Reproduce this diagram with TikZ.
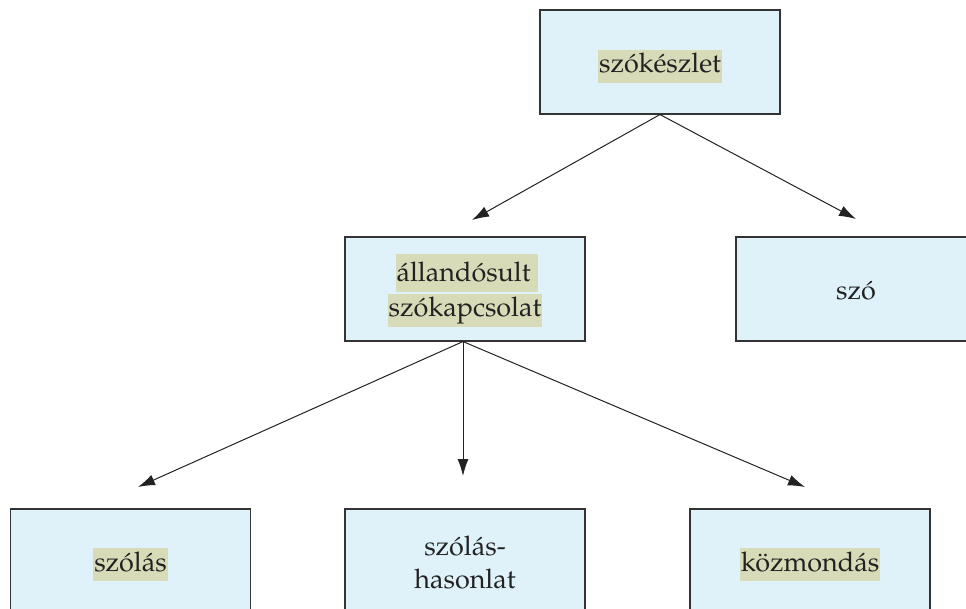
\documentclass[tikz,border=0pt]{standalone}
\usepackage{fontspec}
\setmainfont{texgyrepagella-regular.otf}
\usetikzlibrary{arrows.meta}
\definecolor{boxfill}{HTML}{DFF2FA}
\definecolor{boxline}{HTML}{333333}
\definecolor{hlfill}{HTML}{D8DBB8}
\definecolor{inkcol}{HTML}{222222}
% highlighted word: the struts set the height of the shaded band
\newcommand{\hlword}[1]{{\setlength{\fboxsep}{1pt}\colorbox{hlfill}{\rule[-9pt]{0pt}{31pt}#1}}}
\newcommand{\hlwordtall}[1]{{\setlength{\fboxsep}{1pt}\colorbox{hlfill}{\rule[-9pt]{0pt}{36pt}#1}}}
\tikzset{
  termbox/.style={draw=boxline, line width=1.1pt, fill=boxfill,
    minimum width=240pt, minimum height=104pt, inner sep=0pt},
  termtext/.style={text=inkcol, font=\fontsize{27}{33}\selectfont, align=center,
    inner sep=0pt, anchor=base},
  link/.style={draw=inkcol, line width=1pt, -{Latex[length=17pt,width=11pt]}}
}
\begin{document}
\begin{tikzpicture}[x=1pt,y=-1pt]
  \useasboundingbox (0,0) rectangle (966,609);
  \clip (0,0) rectangle (966,609);
  % boxes
  \node[termbox] (root) at (660,62) {};
  \node[termbox] (fixed) at (465,289) {};
  \node[termbox] (word) at (856,289) {};
  \node[termbox] (saying) at (130.5,561) {};
  \node[termbox] (simile) at (465,561) {};
  \node[termbox] (proverb) at (810,561) {};
  % labels, placed by their baselines
  \node[termtext] (rootlbl) at (660,73) {\hlword{szókészlet}};
  \node[termtext] (fixedlblA) at (467,282) {\hlwordtall{állandósult }};
  \node[termtext] (fixedlblB) at (465,317) {\hlword{szókapcsolat}};
  \node[termtext] (wordlbl) at (856,300) {szó};
  \node[termtext] (sayinglbl) at (130.5,571) {\hlword{szólás}};
  \node[termtext] (similelblA) at (465,555) {szólás-};
  \node[termtext] (similelblB) at (465,588) {hasonlat};
  \node[termtext] (proverblbl) at (810,571) {\hlword{közmondás}};
  % arrow ends above the child boxes
  \coordinate (toFixed) at (472,220);
  \coordinate (toWord) at (856,219);
  \coordinate (toSaying) at (138,487);
  \coordinate (toSimile) at (463,476);
  \coordinate (toProverb) at (805,487);
  % connectors
  \draw[link] (root.south) -- (toFixed);
  \draw[link] (root.south) -- (toWord);
  \draw[link] ([xshift=-2pt]fixed.south) -- (toSaying);
  \draw[link] ([xshift=-2pt]fixed.south) -- (toSimile);
  \draw[link] ([xshift=-2pt]fixed.south) -- (toProverb);
\end{tikzpicture}
\end{document}
